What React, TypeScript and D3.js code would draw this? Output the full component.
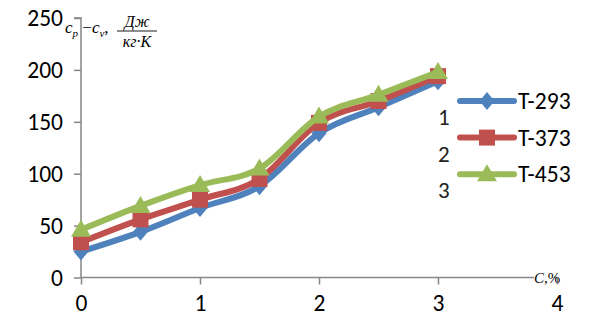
import React, { useEffect, useRef } from 'react';
import * as d3 from 'd3';

const concentrations = [0, 0.5, 1, 1.5, 2, 2.5, 3];
const seriesNames = ['T-293', 'T-373', 'T-453'];
const legendNumbers = ['1', '2', '3'];
const t293 = [25, 44, 67, 88, 139, 164, 189];
const t373 = [34, 56, 75, 95, 149, 170, 194];
const t453 = [46, 69, 89, 105, 155, 176, 198];
const xTicks = [0, 1, 2, 3, 4];
const yTicks = [0, 50, 100, 150, 200, 250];

const colors = ['#4F81BD', '#C0504D', '#9BBB59'];

// marker shapes (diamond is wider than d3's built-in one)
const markerPath = (s: number) => {
  if (s === 0) return 'M0,-9L7.5,0L0,9L-7.5,0Z';
  if (s === 1) return 'M-8,-8H8V8H-8Z';
  return 'M0,-10L10,7H-10Z';
};

const App = () => {
  const svgRef = useRef(null);

  useEffect(() => {
    const width = 590;
    const height = 326;
    const svg = d3.select(svgRef.current);
    svg.selectAll('*').remove();
    svg.attr('width', width).attr('height', height);

    const x = d3.scaleLinear().domain([0, 4]).range([81, 557]);
    const y = d3.scaleLinear().domain([0, 250]).range([277.5, 18]);
    const axisColor = '#878787';
    const font = "Carlito, 'Open Sans', 'Liberation Sans', sans-serif";
    const serif = "'Liberation Serif', 'DejaVu Serif', serif";

    // y axis
    const gy = svg.append('g').attr('transform', `translate(${x(0)},0)`)
      .call(d3.axisLeft(y).tickValues(yTicks).tickSize(7).tickPadding(11).tickFormat(d3.format('d')));
    gy.select('.domain').attr('stroke', axisColor).attr('stroke-width', 1.5).attr('d', `M-7,${y(250)}H0V${y(0)}`);
    gy.selectAll('line').attr('stroke', axisColor).attr('stroke-width', 1.5);
    gy.selectAll('text').attr('font-size', 23.5).attr('font-family', font).attr('fill', '#000').attr('dy', '0.33em');

    // x axis
    const gx = svg.append('g').attr('transform', `translate(0,${y(0)})`)
      .call(d3.axisBottom(x).tickValues(xTicks).tickSize(7).tickPadding(11).tickFormat(d3.format('d')));
    gx.select('.domain').attr('stroke', axisColor).attr('stroke-width', 1.5).attr('d', `M${x(0)},0H${x(4)}`);
    gx.selectAll('line').attr('stroke', axisColor).attr('stroke-width', 1.5);
    gx.selectAll('text').attr('font-size', 23.5).attr('font-family', font).attr('fill', '#000').attr('dy', '0.68em');

    // series
    const allSeries = [t293, t373, t453];
    const line = d3.line<number>()
      .x((_, i) => x(concentrations[i]))
      .y(d => y(d))
      .curve(d3.curveMonotoneX);

    allSeries.forEach((vals, s) => {
      svg.append('path')
        .datum(vals)
        .attr('d', line)
        .attr('fill', 'none')
        .attr('stroke', colors[s])
        .attr('stroke-width', 6)
        .attr('stroke-linejoin', 'round');
      svg.append('g').selectAll('path')
        .data(vals)
        .enter()
        .append('path')
        .attr('transform', (d, i) => `translate(${x(concentrations[i])},${y(d)})`)
        .attr('d', markerPath(s))
        .attr('fill', colors[s]);
    });

    // legend
    const legend = svg.append('g');
    seriesNames.forEach((name, i) => {
      const ly = 101 + i * 36.6;
      legend.append('line')
        .attr('x1', 460).attr('x2', 514).attr('y1', ly).attr('y2', ly)
        .attr('stroke', colors[i]).attr('stroke-width', 6).attr('stroke-linecap', 'round');
      legend.append('path')
        .attr('transform', `translate(487,${ly})`)
        .attr('d', markerPath(i))
        .attr('fill', colors[i]);
      legend.append('text')
        .attr('x', 518).attr('y', ly + 8)
        .attr('font-size', 23.5).attr('font-family', font).attr('fill', '#000')
        .text(name);
      legend.append('text')
        .attr('x', 438).attr('y', ly + 24)
        .attr('font-size', 23).attr('font-family', font).attr('fill', '#222')
        .text(legendNumbers[i]);
    });

    // y axis title: c_p - c_v, Дж/(кг·К)
    const title = svg.append('g').attr('font-family', serif).attr('font-style', 'italic').attr('fill', '#000');
    const t = title.append('text').attr('x', 65).attr('y', 33).attr('font-size', 17);
    t.append('tspan').text('c');
    t.append('tspan').attr('font-size', 11).attr('dy', 4).text('p');
    t.append('tspan').attr('dy', -4).attr('font-style', 'normal').text(' −');
    t.append('tspan').text('c');
    t.append('tspan').attr('font-size', 11).attr('dy', 4).text('v');
    t.append('tspan').attr('dy', -4).attr('font-style', 'normal').text(',');
    title.append('text').attr('x', 137).attr('y', 27).attr('text-anchor', 'middle').attr('font-size', 16).text('Дж');
    title.append('line').attr('x1', 117).attr('x2', 157).attr('y1', 31).attr('y2', 31).attr('stroke', '#000').attr('stroke-width', 0.9);
    title.append('text').attr('x', 137).attr('y', 47).attr('text-anchor', 'middle').attr('font-size', 16).text('кг·К');

    // x axis title, sitting on the axis line
    svg.append('rect')
      .attr('x', 534).attr('y', 271).attr('width', 20).attr('height', 12)
      .attr('fill', '#fff');
    svg.append('text')
      .attr('x', 534).attr('y', 283)
      .attr('font-family', serif).attr('font-size', 15).attr('fill', '#000')
      .html('<tspan font-style="italic">C</tspan>,%');
  }, []);

  return (
    <svg ref={svgRef} style={{ position: 'absolute', left: 0, top: 0, background: '#fff' }}></svg>
  );
};

export default App;
